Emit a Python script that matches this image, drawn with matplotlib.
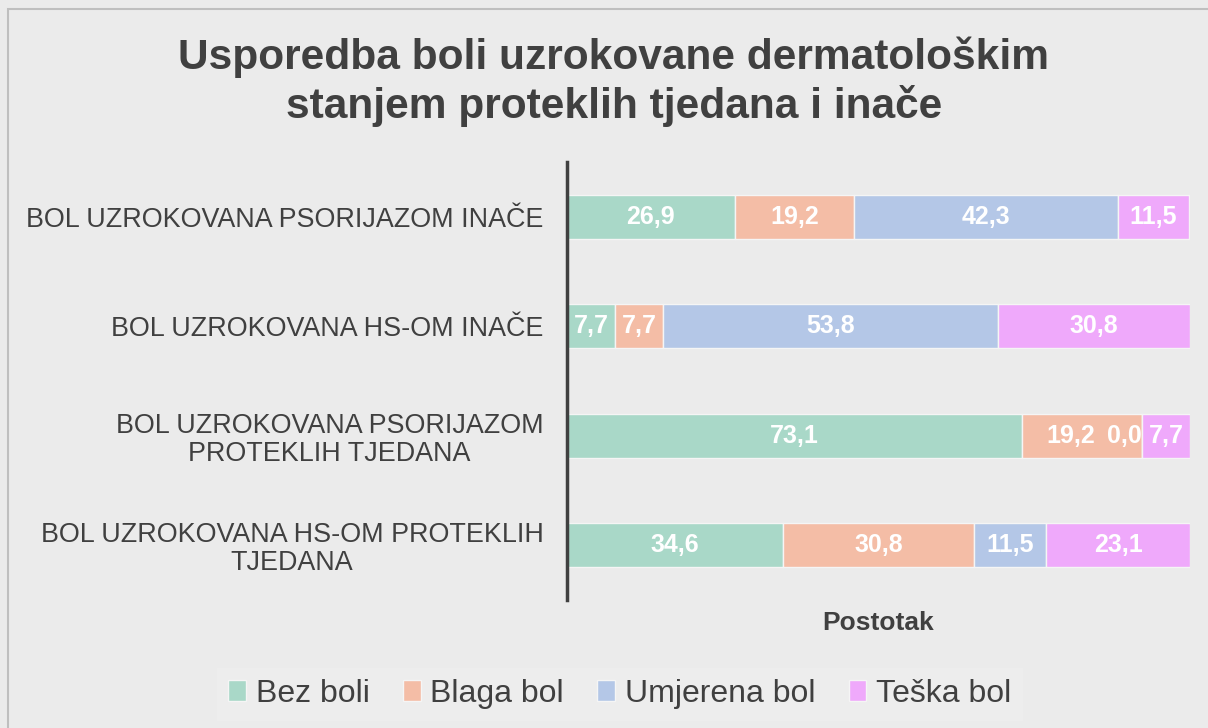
import matplotlib
matplotlib.use('Agg')
import matplotlib.pyplot as plt
from matplotlib.patches import Rectangle
import numpy as np

plt.rcParams['font.family'] = ['Liberation Sans', 'DejaVu Sans']

categories = [
    'BOL UZROKOVANA PSORIJAZOM INAČE',
    'BOL UZROKOVANA HS-OM INAČE',
    'BOL UZROKOVANA PSORIJAZOM\nPROTEKLIH TJEDANA',
    'BOL UZROKOVANA HS-OM PROTEKLIH\nTJEDANA',
]
series_names = ['Bez boli', 'Blaga bol', 'Umjerena bol', 'Teška bol']
bez_boli = [26.9, 7.7, 73.1, 34.6]
blaga_bol = [19.2, 7.7, 19.2, 30.8]
umjerena_bol = [42.3, 53.8, 0.0, 11.5]
teska_bol = [11.5, 30.8, 7.7, 23.1]
series = [bez_boli, blaga_bol, umjerena_bol, teska_bol]
colors = ['#A9D8C8', '#F4BDA6', '#B4C7E7', '#EFA9FB']

BG = '#EBEBEB'
TEXT = '#404040'

fig = plt.figure(figsize=(12.08, 7.28), dpi=100, facecolor=BG)
ax = fig.add_axes([0.4694, 0.1758, 0.5157, 0.6017])
ax.set_facecolor(BG)

y = np.arange(len(categories))
left = np.zeros(len(categories))
for k, (name, vals, col) in enumerate(zip(series_names, series, colors)):
    bars = ax.barh(y, vals, left=left, height=0.4, color=col,
                   edgecolor='#F5F5F5', linewidth=1, label=name)
    for i, (bar, v) in enumerate(zip(bars, vals)):
        cx = bar.get_x() + bar.get_width() / 2
        ha = 'center'
        dx = 0
        if v == 0:
            cx = bar.get_x()
            ha = 'right'
        elif k + 1 < len(series) and series[k + 1][i] == 0:
            # make room for the zero label that sits on the right edge
            dx = -8
        ax.annotate(f'{v:.1f}'.replace('.', ','),
                    (cx, bar.get_y() + bar.get_height() / 2),
                    xytext=(dx, 0), textcoords='offset points',
                    ha=ha, va='center', color='white', fontsize=18, fontweight='bold')
    left += np.array(vals)

ax.set_xlim(0, 100)
ax.set_ylim(3.5, -0.5)
ax.set_yticks(y)
ax.set_yticklabels(categories, fontsize=19.4, color=TEXT, ha='right',
                   multialignment='center', linespacing=1.1)
ax.tick_params(axis='y', length=0, pad=17)
ax.set_xticks([])
for s in ['top', 'right', 'bottom']:
    ax.spines[s].set_visible(False)
ax.spines['left'].set_color('#404040')
ax.spines['left'].set_linewidth(2.5)
ax.set_xlabel('Postotak', fontsize=19, fontweight='bold', color=TEXT, labelpad=8)

fig.text(0.508, 1 - 82 / 728,
         'Usporedba boli uzrokovane dermatološkim\nstanjem proteklih tjedana i inače',
         ha='center', va='center', fontsize=30.6, fontweight='bold', color=TEXT,
         linespacing=1.22)

leg = fig.legend(loc='center', bbox_to_anchor=(0.513, 0.047), ncol=4, frameon=True,
                 fontsize=23, handlelength=0.55, handleheight=0.6, handletextpad=0.3,
                 columnspacing=1.05, borderpad=0.35, fancybox=False)
leg.get_frame().set_facecolor('#EEEEEE')
leg.get_frame().set_edgecolor('#EEEEEE')
for t in leg.get_texts():
    t.set_color(TEXT)

fig.patches.append(Rectangle((8 / 1208, -0.1), 1.2, 1 - 9 / 728 + 0.1,
                             transform=fig.transFigure, fill=False,
                             edgecolor='#BFBFBF', linewidth=1.5))

fig.savefig('out.png', dpi=100, facecolor=BG)
